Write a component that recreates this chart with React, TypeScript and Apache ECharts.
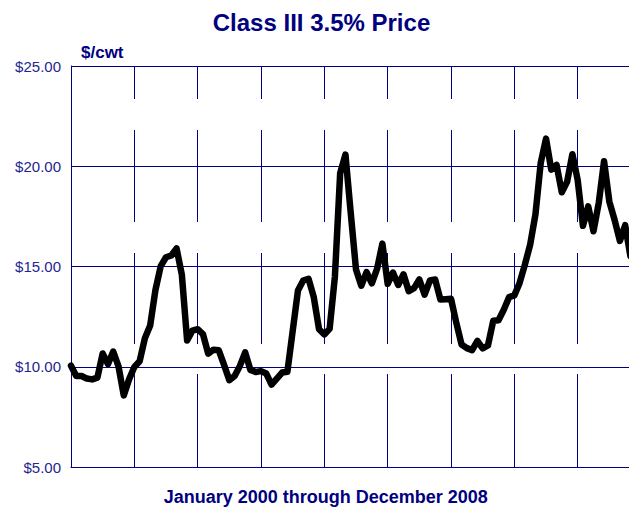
import React, { useEffect, useRef } from "react";
import * as echarts from "echarts";

const title = "Class III 3.5% Price";
const unitLabel = "$/cwt";
const xTitle = "January 2000 through December 2008";

// Monthly Class III prices ($/cwt), Jan..Dec
const y2000 = [10.05, 9.54, 9.54, 9.41, 9.37, 9.46, 10.66, 10.13, 10.76, 10.02, 8.57, 9.37];
const y2001 = [9.99, 10.27, 11.42, 12.06, 13.83, 15.02, 15.46, 15.55, 15.9, 14.6, 11.31, 11.8];
const y2002 = [11.87, 11.63, 10.65, 10.85, 10.82, 10.09, 9.33, 9.54, 10.04, 10.72, 9.84, 9.74];
const y2003 = [9.78, 9.66, 9.11, 9.41, 9.71, 9.75, 11.78, 13.8, 14.3, 14.39, 13.47, 11.87];
const y2004 = [11.61, 11.89, 14.49, 19.66, 20.58, 17.68, 14.85, 14.04, 14.72, 14.16, 14.89, 16.14];
const y2005 = [14.14, 14.7, 14.08, 14.61, 13.77, 13.92, 14.35, 13.6, 14.3, 14.35, 13.35, 13.37];
const y2006 = [13.39, 12.2, 11.11, 10.93, 10.83, 11.29, 10.92, 11.06, 12.29, 12.32, 12.84, 13.47];
const y2007 = [13.56, 14.18, 15.09, 16.09, 17.6, 20.17, 21.38, 19.83, 20.07, 18.7, 19.22, 20.6];
const y2008 = [19.32, 17.03, 18.0, 16.76, 18.18, 20.25, 18.24, 17.32, 16.28, 17.06, 15.51, 15.28];

const prices = [...y2000, ...y2001, ...y2002, ...y2003, ...y2004, ...y2005, ...y2006, ...y2007, ...y2008];

const NAVY = "#000080";
const FONT = "'Liberation Sans', Arial, Helvetica, sans-serif";

export default function App() {
  const ref = useRef<HTMLDivElement>(null);

  useEffect(() => {
    if (!ref.current) return;
    const chart = echarts.init(ref.current, undefined, { renderer: "svg" });
    const seriesData = prices.map((v, i) => [i, v]);
    chart.setOption({
      animation: false,
      backgroundColor: "#ffffff",
      textStyle: { fontFamily: FONT },
      grid: { left: 71, top: 66, width: 570, height: 401, containLabel: false },
      xAxis: {
        type: "value",
        min: 0,
        max: 108,
        interval: 12,
        axisLine: { show: true, lineStyle: { color: NAVY, width: 1 } },
        axisTick: { show: false },
        axisLabel: { show: false },
        splitLine: {
          show: true,
          lineStyle: { color: NAVY, width: 1, type: [33, 31, 92, 31, 91, 30, 110] },
        },
      },
      yAxis: {
        type: "value",
        min: 5,
        max: 25,
        interval: 5,
        axisLine: { show: true, lineStyle: { color: NAVY, width: 1 } },
        axisTick: { show: false },
        axisLabel: {
          margin: 10,
          color: "#25258f",
          fontSize: 15,
          fontFamily: FONT,
          formatter: (v: number) => "$" + v.toFixed(2),
        },
        splitLine: { show: true, lineStyle: { color: NAVY, width: 1 } },
      },
      series: [
        {
          type: "line",
          data: seriesData,
          showSymbol: false,
          symbol: "none",
          lineStyle: { color: "#000000", width: 6.5, join: "round", cap: "round" },
          clip: false,
        },
      ],
      graphic: [
        {
          type: "text",
          x: 321.5,
          y: 22,
          style: {
            text: title,
            fill: NAVY,
            font: `bold 24px ${FONT}`,
            textAlign: "center",
            textVerticalAlign: "middle",
          },
        },
        {
          type: "text",
          x: 81,
          y: 52.5,
          style: {
            text: unitLabel,
            fill: NAVY,
            font: `bold 17px ${FONT}`,
            textAlign: "left",
            textVerticalAlign: "middle",
          },
        },
        {
          type: "text",
          x: 325.8,
          y: 496.5,
          style: {
            text: xTitle,
            fill: NAVY,
            font: `bold 18px ${FONT}`,
            textAlign: "center",
            textVerticalAlign: "middle",
          },
        },
      ],
    });
    return () => chart.dispose();
  }, []);

  return (
    <div
      style={{
        position: "absolute",
        left: 0,
        top: 0,
        width: 629,
        height: 508,
        overflow: "hidden",
        background: "#ffffff",
      }}
    >
      <div ref={ref} style={{ width: 660, height: 508 }} />
    </div>
  );
}
